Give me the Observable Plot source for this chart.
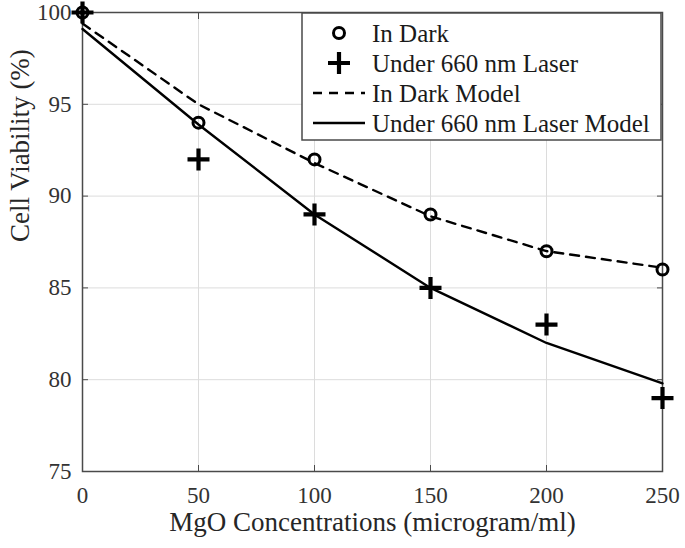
<!DOCTYPE html>
<html><head><meta charset="utf-8">
<script src="https://cdn.jsdelivr.net/npm/d3@7"></script>
<script src="https://cdn.jsdelivr.net/npm/@observablehq/plot@0.6"></script>
<style>body{margin:0;background:#fff}</style>
</head><body><div id="chart"></div>
<script>
const concentrations = [0, 50, 100, 150, 200, 250];
const darkMeasured  = [100, 94, 92, 89, 87, 86];
const laserMeasured = [100, 92, 89, 85, 83, 79];
const darkModel  = [99.4, 95.0, 91.8, 88.9, 87.0, 86.1];
const laserModel = [99.1, 93.9, 89.0, 85.0, 82.0, 79.8];
const xTicks = [0, 50, 100, 150, 200, 250];
const yTicks = [75, 80, 85, 90, 95, 100];
const seriesNames = ["In Dark", "Under 660 nm Laser", "In Dark Model", "Under 660 nm Laser Model"];
const xLabel = "MgO Concentrations (microgram/ml)";
const yLabel = "Cell Viability (%)";

const rows = arr => concentrations.map((c, i) => ({c, v: arr[i]}));
const FONT = "Liberation Serif";
const INK = "#1a1a1a";
const AX = "#4a4a4a";
const plusSymbol = {
  draw(ctx, size) {
    const r = Math.sqrt(size / Math.PI);
    ctx.moveTo(-r, 0); ctx.lineTo(r, 0);
    ctx.moveTo(0, -r); ctx.lineTo(0, r);
  }
};

const svg = Plot.plot({
  width: 685, height: 548,
  marginLeft: 82, marginRight: 23, marginTop: 12, marginBottom: 77,
  x: {domain: [0, 250]},
  y: {domain: [75, 100]},
  style: {fontFamily: FONT, background: "#fff", color: INK, overflow: "visible"},
  marks: [
    Plot.gridX(xTicks, {stroke: "#dcdcdc", strokeOpacity: 1}),
    Plot.gridY(yTicks, {stroke: "#dcdcdc", strokeOpacity: 1}),
    Plot.frame({stroke: AX, strokeWidth: 1.5}),
    Plot.axisX(xTicks, {tickSize: 0, tickPadding: 15, fontSize: 23, fontFamily: FONT, label: null, fill: "#333"}),
    Plot.axisX(xTicks, {anchor: "bottom", tickSize: -6, text: null, label: null, stroke: AX}),
    Plot.axisX(xTicks, {anchor: "top", tickSize: -6, text: null, label: null, stroke: AX}),
    Plot.axisY(yTicks, {tickSize: 0, tickPadding: 11, fontSize: 23, fontFamily: FONT, label: null, fill: "#333"}),
    Plot.axisY(yTicks, {anchor: "left", tickSize: -6, text: null, label: null, stroke: AX}),
    Plot.axisY(yTicks, {anchor: "right", tickSize: -6, text: null, label: null, stroke: AX}),
    Plot.text([xLabel], {frameAnchor: "bottom", dy: 59, text: d => d, fontSize: 27, fontFamily: FONT, fill: "#262626"}),
    Plot.text([yLabel], {frameAnchor: "left", dx: -62, rotate: -90, text: d => d, fontSize: 27, fontFamily: FONT, fill: "#262626"}),
    Plot.line(rows(darkModel), {x: "c", y: "v", stroke: "#000", strokeWidth: 2.4, strokeDasharray: "9,7"}),
    Plot.line(rows(laserModel), {x: "c", y: "v", stroke: "#000", strokeWidth: 2.4}),
    Plot.dot(rows(darkMeasured), {x: "c", y: "v", r: 5.5, stroke: "#000", strokeWidth: 3, fill: "none"}),
    Plot.dot(rows(laserMeasured), {x: "c", y: "v", r: 11, symbol: plusSymbol, stroke: "#000", strokeWidth: 4.2, fill: "none"})
  ]
});
document.getElementById("chart").appendChild(svg);

// Legend (inside the plot area, top-right)
const s = d3.select(svg);
const lg = s.append("g").attr("font-family", FONT).attr("text-anchor", "start");
lg.append("rect").attr("x", 302).attr("y", 13).attr("width", 359).attr("height", 127)
  .attr("fill", "#fff").attr("stroke", AX).attr("stroke-width", 1.5);
const rowY = [33, 63, 93, 123];
seriesNames.forEach((name, i) => {
  const y = rowY[i];
  if (i === 0) {
    lg.append("circle").attr("cx", 339).attr("cy", y).attr("r", 5.5)
      .attr("fill", "none").attr("stroke", "#000").attr("stroke-width", 3);
  } else if (i === 1) {
    lg.append("path").attr("d", `M${328},${y}H${350}M${339},${y - 11}V${y + 11}`)
      .attr("stroke", "#000").attr("stroke-width", 4.2);
  } else {
    lg.append("line").attr("x1", 313).attr("x2", 365).attr("y1", y).attr("y2", y)
      .attr("stroke", "#000").attr("stroke-width", 2.4)
      .attr("stroke-dasharray", i === 2 ? "9,7" : null);
  }
  lg.append("text").attr("x", 372).attr("y", y).attr("dy", "0.34em")
    .attr("text-anchor", "start").attr("font-family", FONT)
    .attr("font-size", 25).attr("fill", INK).text(name);
});
</script>
</body></html>
